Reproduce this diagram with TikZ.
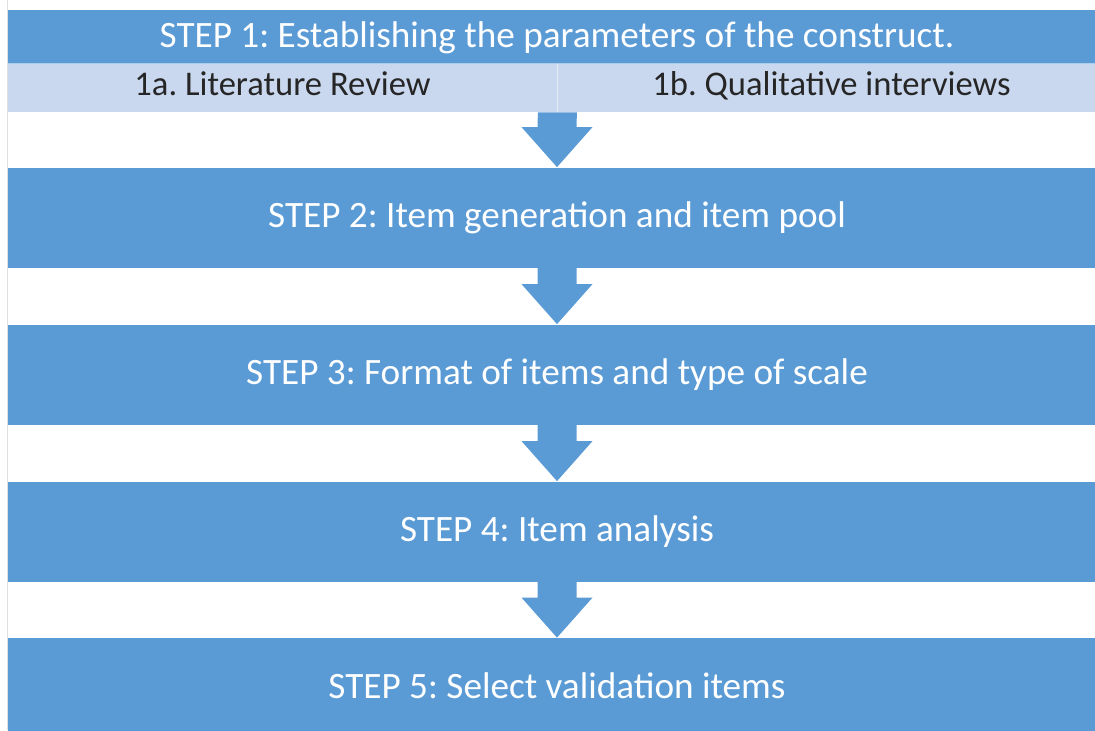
\documentclass[tikz,border=0pt]{standalone}
\usepackage{fontspec}
\setmainfont{Carlito}
\frenchspacing
\usetikzlibrary{calc}
\definecolor{stepblue}{HTML}{5B9BD5}
\definecolor{rowblue}{HTML}{C9D8EE}
\tikzset{
  stepbox/.style={fill=stepblue, text=white, inner sep=0pt, minimum width=549pt,
    minimum height=50pt, text height=1.08em, text depth=0.08em,
    font=\fontsize{18.6}{22}\selectfont},
  subbox/.style={fill=rowblue, text=black!85, inner sep=0pt, minimum width=274.5pt,
    minimum height=24.5pt, text height=0.85em, text depth=0.08em,
    font=\fontsize{17.3}{21}\selectfont}
}
% block arrow from the bottom of one box to the top of the next
\newcommand{\steparrow}[2]{%
  \fill[stepblue] ($(#1)+(-19.5,0)$) -- ($(#1)+(19.5,0)$) -- ($(#2.north)+(19.5,-40)$)
    -- ($(#2.north)+(35.5,-40)$) -- (#2.north) -- ($(#2.north)+(-35.5,-40)$)
    -- ($(#2.north)+(-19.5,-40)$) -- cycle;}
\begin{document}
\begin{tikzpicture}[x=0.5pt,y=-0.5pt]
  \useasboundingbox (0,0) rectangle (1095,730);
  \draw[black!12] (7,0) -- (7,730);
  \node[stepbox, minimum height=26.5pt, text height=1.2em] (s1) at (557,36.5) {STEP 1: Establishing the parameters of the construct.};
  \node[subbox] (r1a) at (282.5,87.5) {1a. Literature Review};
  \node[subbox] (r1b) at (831.5,87.5) {1b. Qualitative interviews};
  \draw[white!55!rowblue] (r1a.north east) -- (r1a.south east);
  \draw[white!50!stepblue] (s1.south west) -- (s1.south east);
  \node[stepbox] (s2) at (557,217.5) {STEP 2: Item generation and item pool};
  \node[stepbox] (s3) at (557,374.5) {STEP 3: Format of items and type of scale};
  \node[stepbox] (s4) at (557,531.5) {STEP 4: Item analysis};
  \node[stepbox] (s5) at (557,688) {STEP 5: Select validation items};
  \steparrow{r1a.south east}{s2}
  \steparrow{s2.south}{s3}
  \steparrow{s3.south}{s4}
  \steparrow{s4.south}{s5}
\end{tikzpicture}
\end{document}
